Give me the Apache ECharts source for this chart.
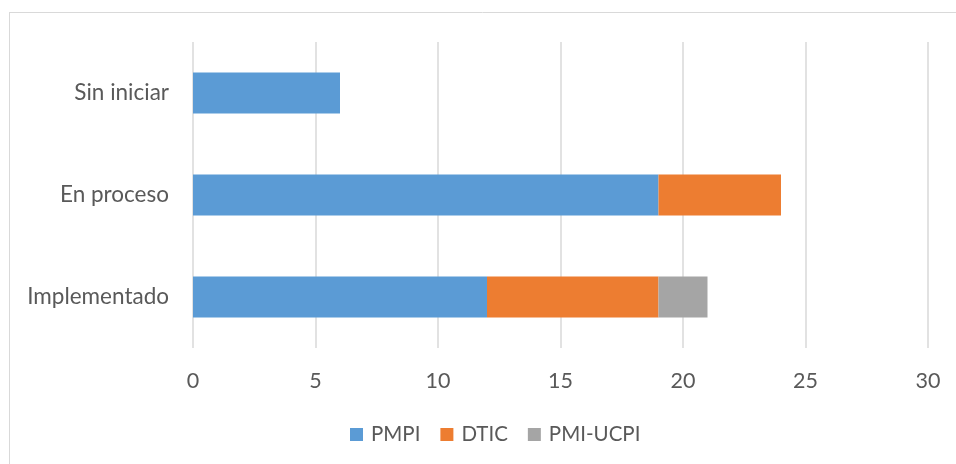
<!DOCTYPE html>
<html>
<head>
<meta charset="utf-8">
<script src="https://cdn.jsdelivr.net/npm/echarts@6/dist/echarts.min.js"></script>
<style>
  html, body { margin: 0; padding: 0; background: #fff; }
  #chart { width: 956px; height: 464px; }
</style>
</head>
<body>
<div id="chart"></div>
<script>
// data, bottom to top as drawn
var categories = ["Implementado", "En proceso", "Sin iniciar"];
var pmpi = [12, 19, 6];
var dtic = [7, 5, 0];
var pmiUcpi = [2, 0, 0];
var seriesNames = ["PMPI", "DTIC", "PMI-UCPI"];
var colors = ["#5b9bd5", "#ed7d31", "#a5a5a5"];

var myChart = echarts.init(document.getElementById("chart"));

function barSeries(name, values, color) {
  return {
    name: name,
    type: "bar",
    stack: "total",
    barWidth: "40%",
    itemStyle: { color: color },
    data: values.map(function (v) { return v === 0 ? null : v; })
  };
}

myChart.setOption({
  animation: false,
  textStyle: { fontFamily: "Lato, 'Open Sans', sans-serif" },
  color: colors,
  grid: { left: 193, right: 28, top: 42, bottom: 116, containLabel: false },
  xAxis: {
    type: "value",
    min: 0,
    max: 30,
    interval: 5,
    axisLine: { show: false },
    axisTick: { show: false },
    splitLine: { lineStyle: { color: "#d9d9d9", width: 1.5 } },
    axisLabel: { color: "#595959", fontSize: 21.5, margin: 22 }
  },
  yAxis: {
    type: "category",
    data: categories,
    axisLine: { show: false },
    axisTick: { show: false },
    axisLabel: { color: "#595959", fontSize: 22.5, margin: 24 }
  },
  legend: {
    bottom: 14,
    left: 345,
    itemWidth: 13,
    itemHeight: 13,
    itemGap: 20,
    icon: "rect",
    textStyle: { color: "#595959", fontSize: 20.5, padding: [0, 0, 0, 3] },
    data: seriesNames
  },
  graphic: [
    { type: "line", shape: { x1: 9, y1: 12.5, x2: 956, y2: 12.5 }, style: { stroke: "#d9d9d9", lineWidth: 1 } },
    { type: "line", shape: { x1: 9.5, y1: 12, x2: 9.5, y2: 464 }, style: { stroke: "#d9d9d9", lineWidth: 1 } }
  ],
  series: [
    barSeries(seriesNames[0], pmpi, colors[0]),
    barSeries(seriesNames[1], dtic, colors[1]),
    barSeries(seriesNames[2], pmiUcpi, colors[2])
  ]
});
</script>
</body>
</html>
